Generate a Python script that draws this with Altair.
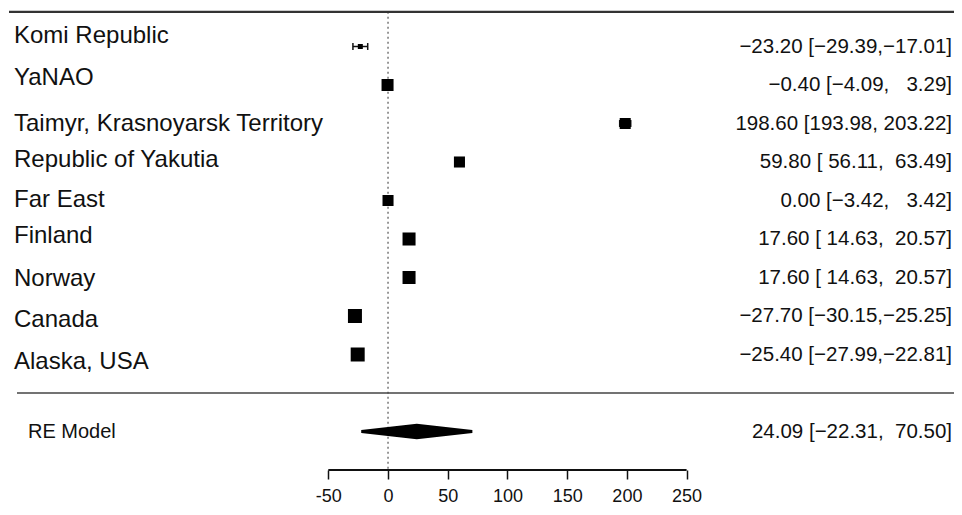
import altair as alt
import pandas as pd

# ---- data ----
studies = ["Komi Republic", "YaNAO", "Taimyr, Krasnoyarsk Territory",
           "Republic of Yakutia", "Far East", "Finland", "Norway",
           "Canada", "Alaska, USA"]
estimate = [-23.20, -0.40, 198.60, 59.80, 0.00, 17.60, 17.60, -27.70, -25.40]
ci_low = [-29.39, -4.09, 193.98, 56.11, -3.42, 14.63, 14.63, -30.15, -27.99]
ci_high = [-17.01, 3.29, 203.22, 63.49, 3.42, 20.57, 20.57, -25.25, -22.81]
weight = [2.0, 11.5, 9.7, 9.7, 9.7, 13.5, 13.5, 15.6, 15.6]
# vertical position of the (slightly misplaced) study-name labels, in row units
label_row = [0.73, 1.82, 3.01, 3.95, 4.99, 5.92, 7.04, 8.10, 9.19]

re_label = "RE Model"
re_est, re_low, re_high = 24.09, -22.31, 70.50

tick_values = [-50, 0, 50, 100, 150, 200, 250]

NB = "\u00a0"
def fmt(v):
    return f"{v:.2f}".replace("-", "\u2212")

def ci_text(e, l, h):
    ls = fmt(l)
    hs = fmt(h)
    lpart = (NB * (6 - len(ls)) if l >= 0 else "") + ls
    hpart = (NB * (7 - len(hs)) if h >= 0 else "") + hs
    return f"{fmt(e)} [{lpart},{hpart}]"

rows = list(range(1, len(studies) + 1))
df = pd.DataFrame({
    "study": studies, "est": estimate, "lo": ci_low, "hi": ci_high,
    "w": weight, "row": rows, "lrow": label_row,
    "txt": [ci_text(e, l, h) for e, l, h in zip(estimate, ci_low, ci_high)],
})
re_row = len(studies) + 2
df_re = pd.DataFrame({
    "x": [re_low, re_est, re_high],
    "y": [re_row, re_row - 0.16, re_row],
    "y2": [re_row, re_row + 0.16, re_row],
})
df_re_lab = pd.DataFrame({"label": [re_label], "row": [re_row],
                          "txt": [ci_text(re_est, re_low, re_high)]})

W, H = 946, 462
FONT = "Liberation Sans"
xscale = alt.Scale(domain=[-318.2, 473.9], nice=False, zero=False)
yscale = alt.Scale(domain=[0, 12], reverse=True, nice=False, zero=False)

xaxis = alt.Axis(values=tick_values, domain=False, grid=False, title=None,
                 tickColor="#111", tickSize=9, tickWidth=1.5, labelFontSize=18,
                 labelColor="#111", labelPadding=8, labelFont=FONT,
                 labelExpr="datum.value + ''")

base = alt.Chart(df)

ref_line = alt.Chart(pd.DataFrame({"x": [0], "y": [0.1], "y2": [12]})).mark_rule(
    color="#555", strokeDash=[2, 3], strokeWidth=1.2
).encode(x=alt.X("x:Q", scale=xscale, axis=xaxis),
         y=alt.Y("y:Q", scale=yscale, axis=None), y2="y2:Q")

top_line = alt.Chart(pd.DataFrame({"y": [0.1]})).mark_rule(
    color="#333", strokeWidth=2.2
).encode(x=alt.value(1), x2=alt.value(W), y=alt.Y("y:Q", scale=yscale))

sep_line = alt.Chart(pd.DataFrame({"y": [10]})).mark_rule(
    color="#444", strokeWidth=1.5
).encode(x=alt.value(9), x2=alt.value(W), y=alt.Y("y:Q", scale=yscale))

axis_line = alt.Chart(pd.DataFrame({"x": [tick_values[0]], "x2": [tick_values[-1]], "y": [12]})).mark_rule(
    color="#111", strokeWidth=1.8
).encode(x=alt.X("x:Q", scale=xscale), x2="x2:Q", y=alt.Y("y:Q", scale=yscale))

ci = base.mark_rule(color="#111", strokeWidth=1.5).encode(
    x=alt.X("lo:Q", scale=xscale), x2="hi:Q", y=alt.Y("row:Q", scale=yscale))

cap_lo = base.transform_calculate(a="datum.row - 0.09", b="datum.row + 0.09").mark_rule(
    color="#111", strokeWidth=1.5).encode(
    x=alt.X("lo:Q", scale=xscale), y=alt.Y("a:Q", scale=yscale), y2="b:Q")
cap_hi = base.transform_calculate(a="datum.row - 0.09", b="datum.row + 0.09").mark_rule(
    color="#111", strokeWidth=1.5).encode(
    x=alt.X("hi:Q", scale=xscale), y=alt.Y("a:Q", scale=yscale), y2="b:Q")

squares = base.mark_square(color="#000", opacity=1, filled=True).encode(
    x=alt.X("est:Q", scale=xscale), y=alt.Y("row:Q", scale=yscale),
    size=alt.Size("w:Q", scale=alt.Scale(domain=[0, 15.6], range=[0, 196], zero=True), legend=None))

names = base.mark_text(align="left", baseline="middle", fontSize=24, font=FONT, color="#111").encode(
    x=alt.value(6), y=alt.Y("lrow:Q", scale=yscale), text="study:N")

values = base.mark_text(align="right", baseline="middle", fontSize=20.5, font=FONT, color="#111").encode(
    x=alt.value(W - 2), y=alt.Y("row:Q", scale=yscale), text="txt:N")

diamond = alt.Chart(df_re).mark_area(color="#000", stroke="#000", strokeWidth=3, orient="vertical").encode(
    x=alt.X("x:Q", scale=xscale), y=alt.Y("y:Q", scale=yscale), y2="y2:Q")

re_name = alt.Chart(df_re_lab).mark_text(align="left", baseline="middle", fontSize=20, font=FONT, color="#111").encode(
    x=alt.value(20), y=alt.Y("row:Q", scale=yscale), text="label:N")
re_val = alt.Chart(df_re_lab).mark_text(align="right", baseline="middle", fontSize=20.5, font=FONT, color="#111").encode(
    x=alt.value(W - 2), y=alt.Y("row:Q", scale=yscale), text="txt:N")

chart = alt.layer(
    ref_line, top_line, sep_line, axis_line, ci, cap_lo, cap_hi, squares,
    names, values, diamond, re_name, re_val
).properties(
    width=W, height=H,
    autosize=alt.AutoSizeParams(type="none"),
    padding={"left": 0, "top": 0, "right": 0, "bottom": 40},
    background="white",
).configure_view(stroke=None)

chart.save("out.html", embed_options={"renderer": "svg", "actions": False})
